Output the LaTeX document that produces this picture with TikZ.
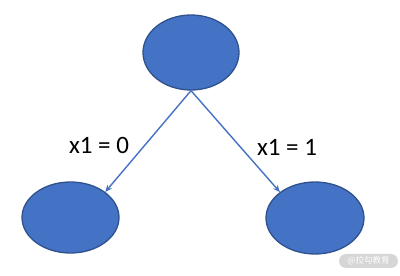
\documentclass[tikz,border=0pt]{standalone}
\usepackage{fontspec}
\setmainfont{Carlito}
\newfontfamily\cjk{Noto Sans CJK SC}
\usetikzlibrary{shapes.geometric,arrows.meta}
\definecolor{nodefill}{HTML}{4472C4}
\definecolor{nodeedge}{HTML}{2F528F}
\definecolor{wmgray}{HTML}{D6D6D6}
\begin{document}
\begin{tikzpicture}[x=1pt,y=1pt,
  blob/.style={ellipse,draw=nodeedge,fill=nodefill,line width=1.3pt,inner sep=0pt},
  edge/.style={draw=nodefill,line width=1.4pt,-{Stealth[length=7pt,width=6pt]}},
  lbl/.style={inner sep=0pt,font=\fontsize{25}{29}\selectfont}]
\useasboundingbox (0,0) rectangle (400,276);
\node[blob,minimum width=96pt,minimum height=75pt] (top) at (191,223.5) {};
\node[blob,minimum width=97pt,minimum height=71pt] (left) at (70.5,58.5) {};
\node[blob,minimum width=98pt,minimum height=72pt] (right) at (315,58) {};
\draw[edge] (top.south) -- (left.north east);
\draw[edge] (top.south) -- (right.north west);
\node[lbl] (l0) at (99,131) {x1 = 0};
\node[lbl] (l1) at (287,129) {x1 = 1};
\node[fill=wmgray,rounded corners=7pt,minimum width=59pt,minimum height=14pt,inner sep=0pt,text=white,font=\cjk\fontsize{8.5}{9}\selectfont] (wm) at (368.5,15) {@拉勾教育};
\end{tikzpicture}
\end{document}
